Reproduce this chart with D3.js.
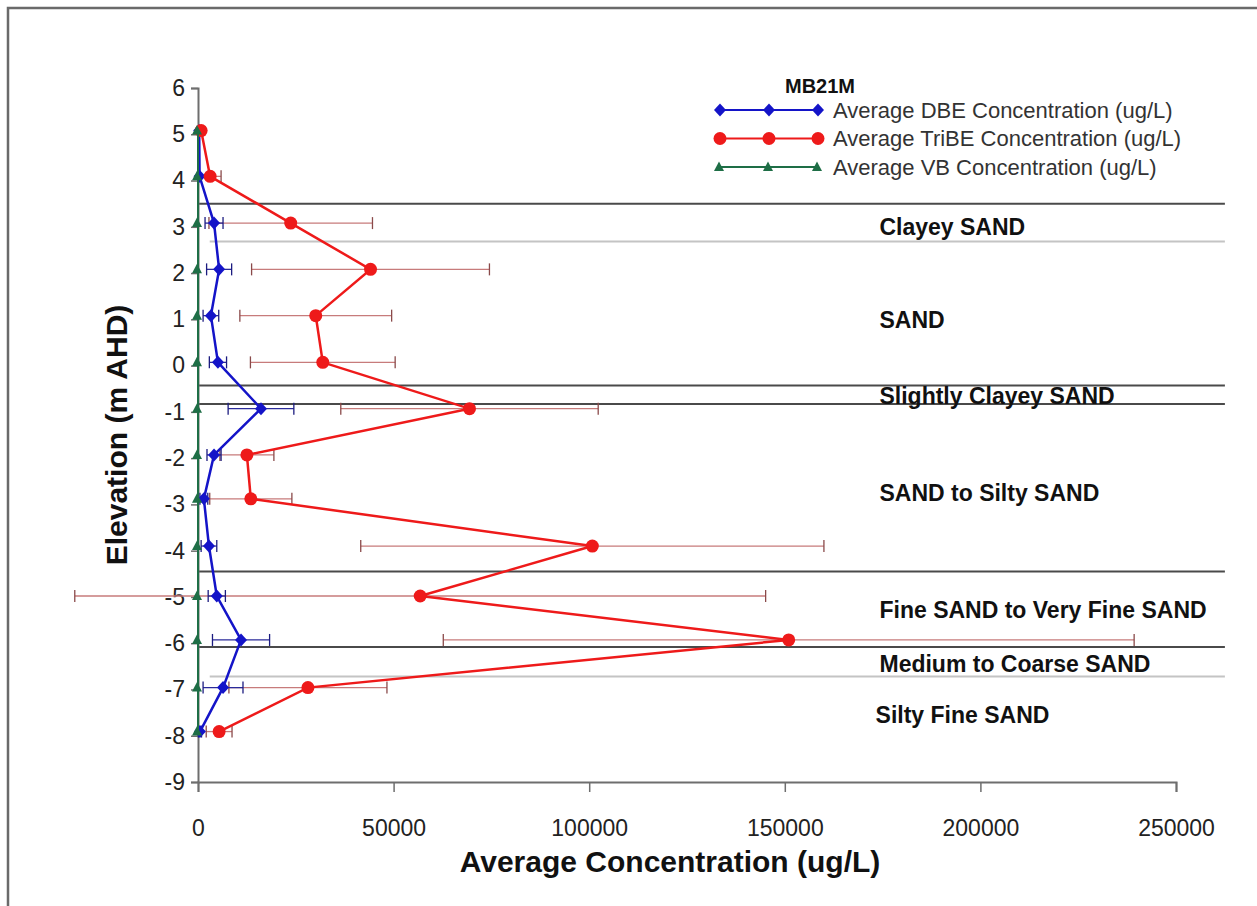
<!DOCTYPE html>
<html>
<head>
<meta charset="utf-8">
<script src="https://cdn.jsdelivr.net/npm/d3@7"></script>
<style>
body { margin: 0; background: #fff; }
text { font-family: "Liberation Sans", Arial, sans-serif; }
</style>
</head>
<body>
<div id="chart"></div>
<script>
// sample elevations (m AHD)
var elevation = [5.08, 4.09, 3.08, 2.08, 1.08, 0.07, -0.93, -1.93, -2.88, -3.9, -4.98, -5.93, -6.96, -7.91];

// average concentrations (ug/L) and error (+/-)
var dbe     = [300, 400, 4100, 5400, 3300, 5100, 16100, 4100, 1500, 2800, 4800, 11000, 6400, 500];
var dbeErr  = [0, 0, 2300, 3200, 2000, 2200, 8400, 1800, 1000, 2000, 2200, 7300, 5100, 400];
var tribe    = [800, 3100, 23700, 44100, 30100, 31900, 69400, 12500, 13500, 100800, 56800, 151000, 28100, 5400];
var tribeErr = [0, 2800, 20900, 30400, 19400, 18500, 32900, 6900, 10500, 59200, 88300, 88300, 20200, 3300];
var vb       = [0, 0, 0, 0, 0, 0, 0, 0, 0, 0, 0, 0, 0, 0];

var seriesNames = ["Average DBE Concentration (ug/L)", "Average TriBE Concentration (ug/L)", "Average VB Concentration (ug/L)"];
var legendTitle = "MB21M";

// lithology boundaries (elevation)
var darkBoundaries = [3.5, -0.43, -0.83, -4.45, -6.08];
var lightBoundaries = [2.68, -6.72];
var boundaryEnd = 262500;

var lithology = ["Clayey SAND", "SAND", "Slightly Clayey SAND", "SAND to Silty SAND", "Fine SAND to Very Fine SAND", "Medium to Coarse SAND", "Silty Fine SAND"];
var lithologyElev = [3.0, 1.0, -0.65, -2.75, -5.27, -6.45, -7.55];
var lithologyConc = [174200, 174200, 174200, 174200, 174200, 174200, 173200];

var xTicks = [0, 50000, 100000, 150000, 200000, 250000];
var yTicks = d3.range(-9, 7);

var W = 1257, H = 906;
var svg = d3.select("#chart").append("svg").attr("width", W).attr("height", H);

// chart frame (only top/left visible)
svg.append("rect").attr("x", 8).attr("y", 8).attr("width", W + 10).attr("height", H + 10)
	.attr("fill", "#fff").attr("stroke", "#6a6a6a").attr("stroke-width", 2.5);

var x = d3.scaleLinear().domain([0, 250000]).range([198, 1176]);
var y = d3.scaleLinear().domain([-9, 6]).range([782, 88]);

// boundaries
svg.selectAll(".bdark").data(darkBoundaries).enter().append("line")
	.attr("x1", x(0)).attr("x2", x(boundaryEnd))
	.attr("y1", function(d) { return y(d); }).attr("y2", function(d) { return y(d); })
	.attr("stroke", "#4a4a4a").attr("stroke-width", 2);
svg.selectAll(".blight").data(lightBoundaries).enter().append("line")
	.attr("x1", x(3000)).attr("x2", x(boundaryEnd))
	.attr("y1", function(d) { return y(d); }).attr("y2", function(d) { return y(d); })
	.attr("stroke", "#c4c4c4").attr("stroke-width", 2);

// lithology labels
svg.selectAll(".lith").data(lithology).enter().append("text")
	.attr("x", function(d, i) { return x(lithologyConc[i]); })
	.attr("y", function(d, i) { return y(lithologyElev[i]); })
	.attr("dy", "0.36em")
	.attr("font-size", 23).attr("font-weight", "bold").attr("fill", "#111")
	.text(function(d) { return d; });

// axes
var fmt = function(d) { return String(d); }; // plain hyphen minus like the original
var xAxis = svg.append("g").attr("transform", "translate(0," + y(-9) + ")")
	.call(d3.axisBottom(x).tickValues(xTicks).tickSize(10).tickPadding(28).tickFormat(fmt));
var yAxis = svg.append("g").attr("transform", "translate(" + x(0) + ",0)")
	.call(d3.axisLeft(y).tickValues(yTicks).tickSize(7).tickPadding(6).tickFormat(fmt));
[xAxis, yAxis].forEach(function(a) {
	a.select(".domain").attr("stroke", "#6e6e6e").attr("stroke-width", 2);
	a.selectAll(".tick line").attr("stroke", "#6e6e6e").attr("stroke-width", 1.5);
	a.selectAll(".tick text").attr("font-size", 23).attr("fill", "#222")
		.style("font-family", "'Liberation Sans', Arial, sans-serif");
});

// axis titles
svg.append("text").attr("x", 670).attr("y", 872).attr("text-anchor", "middle")
	.attr("font-size", 30).attr("font-weight", "bold").attr("fill", "#111")
	.text("Average Concentration (ug/L)");
svg.append("text").attr("transform", "translate(127,435) rotate(-90)").attr("text-anchor", "middle")
	.attr("font-size", 30).attr("font-weight", "bold").attr("fill", "#111")
	.text("Elevation (m AHD)");

// error bars
function drawErr(vals, errs, lineCol, capCol) {
	var g = svg.append("g");
	var idx = d3.range(vals.length).filter(function(i) { return errs[i] > 0; });
	g.selectAll(".eb").data(idx).enter().append("line")
		.attr("x1", function(i) { return x(vals[i] - errs[i]); })
		.attr("x2", function(i) { return x(vals[i] + errs[i]); })
		.attr("y1", function(i) { return y(elevation[i]); })
		.attr("y2", function(i) { return y(elevation[i]); })
		.attr("stroke", lineCol).attr("stroke-width", 1.3);
	[-1, 1].forEach(function(s) {
		g.selectAll(".cap" + s).data(idx).enter().append("line")
			.attr("x1", function(i) { return x(vals[i] + s * errs[i]); })
			.attr("x2", function(i) { return x(vals[i] + s * errs[i]); })
			.attr("y1", function(i) { return y(elevation[i]) - 6; })
			.attr("y2", function(i) { return y(elevation[i]) + 6; })
			.attr("stroke", capCol).attr("stroke-width", 1.3);
	});
}
drawErr(tribe, tribeErr, "#c77b7b", "#8a4a4a");
drawErr(dbe, dbeErr, "#2a2a9a", "#1c1c80");

var diamond = "M0,-6.5L6,0L0,6.5L-6,0Z";
var triangle = "M0,-5.5L5,4L-5,4Z";

function drawSeries(vals, col, width, marker) {
	var line = d3.line()
		.x(function(d) { return x(d); })
		.y(function(d, i) { return y(elevation[i]); });
	svg.append("path").datum(vals).attr("d", line)
		.attr("fill", "none").attr("stroke", col).attr("stroke-width", width);
	var g = svg.append("g");
	vals.forEach(function(v, i) {
		marker(g, x(v), y(elevation[i]));
	});
}
function diamondMark(col) {
	return function(g, cx, cy) {
		g.append("path").attr("d", diamond).attr("transform", "translate(" + cx + "," + cy + ")").attr("fill", col);
	};
}
function circleMark(col) {
	return function(g, cx, cy) {
		g.append("circle").attr("cx", cx).attr("cy", cy).attr("r", 6.5).attr("fill", col);
	};
}
function triMark(col) {
	return function(g, cx, cy) {
		g.append("path").attr("d", triangle).attr("transform", "translate(" + (cx - 1) + "," + cy + ")").attr("fill", col);
	};
}

var colDbe = "#1414c8", colTri = "#ee1a1a", colVb = "#1e6e46";
drawSeries(dbe, colDbe, 2.5, diamondMark(colDbe));
drawSeries(tribe, colTri, 2.5, circleMark(colTri));
drawSeries(vb, colVb, 2, triMark(colVb));

// legend
var lg = svg.append("g");
lg.append("text").attr("x", 820).attr("y", 93).attr("text-anchor", "middle")
	.attr("font-size", 20).attr("font-weight", "bold").attr("fill", "#111").text(legendTitle);
var legCols = [colDbe, colTri, colVb];
var legMarks = [diamondMark(colDbe), circleMark(colTri), triMark(colVb)];
seriesNames.forEach(function(name, i) {
	var ly = 110 + i * 28.5;
	lg.append("line").attr("x1", 720).attr("x2", 818).attr("y1", ly).attr("y2", ly)
		.attr("stroke", legCols[i]).attr("stroke-width", 2.2);
	[720, 769, 818].forEach(function(mx) { legMarks[i](lg, mx, ly); });
	lg.append("text").attr("x", 833).attr("y", ly + 7.5).attr("font-size", 22).attr("fill", "#333").text(name);
});
</script>
</body>
</html>
